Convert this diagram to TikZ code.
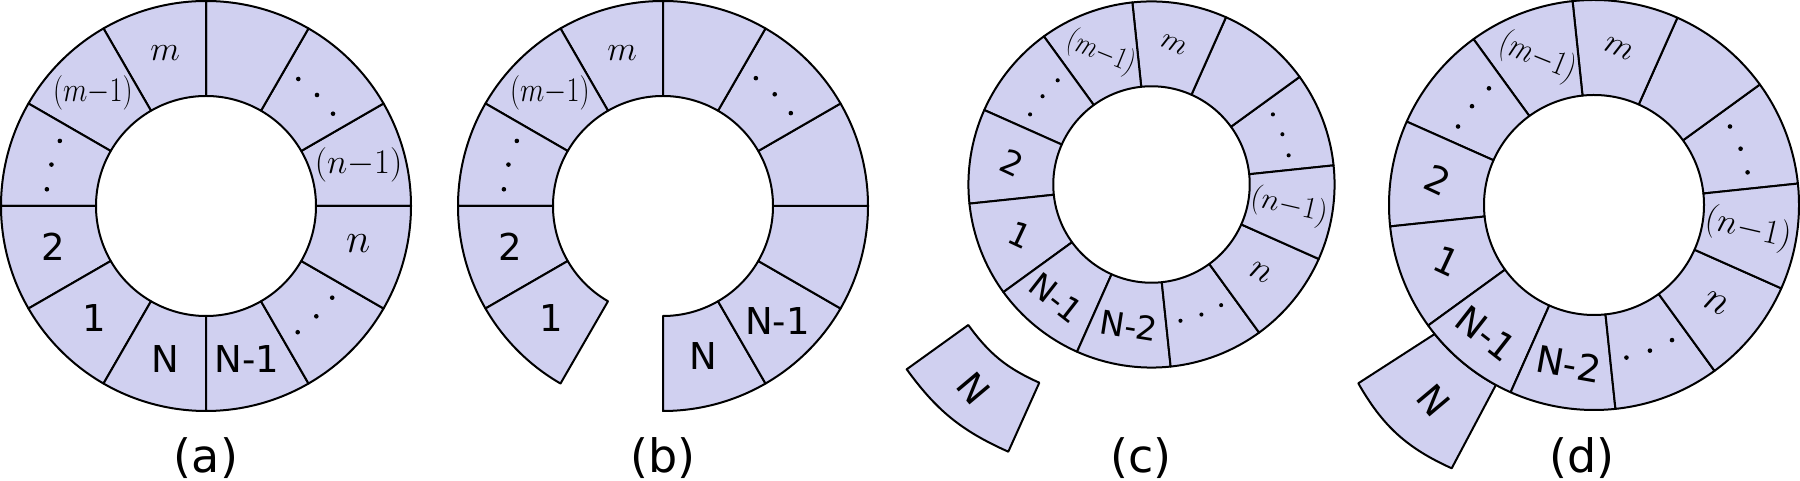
\documentclass[tikz,border=0pt]{standalone}
\usepackage{fontspec}
\usepackage{graphicx}
\newfontfamily\dvs{DejaVu Sans}
\definecolor{segfill}{RGB}{208,208,240}
\tikzset{
  seg/.style={fill=segfill, draw=black, line width=1pt, line join=round},
  slab/.style={font=\dvs\fontsize{18.5}{20}\selectfont, inner sep=0pt},
  mlab/.style={font=\fontsize{17.5}{20}\selectfont, inner sep=0pt},
  nlab/.style={font=\fontsize{22}{24}\selectfont, inner sep=0pt},
  caplab/.style={font=\dvs\fontsize{23}{26}\selectfont, inner sep=0pt, anchor=base},
}
\newcommand\ringseg[4]{\path[seg] ({#1}:#3) arc[start angle=#1, end angle=#2, radius=#3] -- ({#2}:#4) arc[start angle=#2, end angle=#1, radius=#4] -- cycle;}
\newcommand\tridots[2]{\foreach \dd in {-9,0,9}{\fill ({#1+\dd}:#2) circle[radius=2.3];}}
\newcommand\mmo{\scalebox{0.82}[1]{$(m{-}1)$}}
\newcommand\nmo{$(n{-}1)$}
\begin{document}
\begin{tikzpicture}[x=0.5pt,y=0.5pt]
\useasboundingbox (0,0) rectangle (1800,481);
% ---------------- (a)
\begin{scope}[shift={(206,275)}]
  \foreach \a in {0,30,...,330} {\ringseg{\a}{\a+30}{110}{205}}
  \node[mlab] (am) at (105:158) {$m$};
  \node[mlab] (amm) at (135:160) {\mmo};
  \tridots{165}{160}
  \node[slab] (a2) at (195:158) {2};
  \node[slab] (a1) at (225:158) {1};
  \node[slab] (aN) at (255:158) {N};
  \node[slab] (aN1) at (285:158) {N-1};
  \tridots{315}{156}
  \node[nlab] (an) at (346:157) {$n$};
  \node[mlab] (ann) at (15:158) {\nmo};
  \tridots{45}{157}
\end{scope}
\node[caplab] (capa) at (206,8) {(a)};
% ---------------- (b)
\begin{scope}[shift={(663,275)}]
  \foreach \a in {90,120,150,180,210,270,300,330,0,30,60} {\ringseg{\a}{\a+30}{110}{205}}
  \node[mlab] (bm) at (105:158) {$m$};
  \node[mlab] (bmm) at (135:160) {\mmo};
  \tridots{165}{160}
  \node[slab] (b2) at (195:158) {2};
  \node[slab] (b1) at (225:158) {1};
  \node[slab] (bN) at (285:155) {N};
  \node[slab] (bN1) at (315:162) {N-1};
  \tridots{45}{158}
\end{scope}
\node[caplab] (capb) at (663,8) {(b)};
% ---------------- (c)
\begin{scope}[shift={(1151.5,296.5)}, scale=0.893, every node/.append style={transform shape}]
  \foreach \a in {6,36,...,336} {\ringseg{\a}{\a+30}{110}{205}}
  \node[mlab, rotate=-24] (cm) at (81:158) {$m$};
  \node[mlab, rotate=-22] (cmm) at (111:158) {\mmo};
  \tridots{141}{157}
  \node[slab, rotate=-25] (c2) at (171:158) {2};
  \node[slab, rotate=-25] (c1) at (201:158) {1};
  \node[slab, rotate=-38] (cN1) at (230:166) {N-1};
  \node[slab, rotate=-9] (cN2) at (261:160) {N-2};
  \tridots{291}{156}
  \node[nlab, rotate=-28] (cn) at (321:157) {$n$};
  \node[mlab, rotate=-13] (cnn) at (351:156) {\nmo};
  \tridots{21}{157}
\end{scope}
\path[seg] (968.3,156) coordinate (cpt) -- (906.7,111.7) coordinate (cpl)
  to[bend right=15] (1008.3,29.3) coordinate (cpb)
  -- (1039.3,98.3) coordinate (cpr) to[bend left=15] cycle;
\node[slab, rotate=-50] (cN) at (973.3,92.7) {N};
\node[caplab] (capc) at (1141,8) {(c)};
% ---------------- (d)
\begin{scope}[shift={(1594,276)}]
  \path[seg] (219:205) -- (-235.7,-178.3) to[bend right=18] (-142.3,-263.3)
    -- (241.4:205) arc[start angle=241.4, end angle=219, radius=205] -- cycle;
  \node[slab, rotate=-50] (dN) at (-160.7,-195) {N};
  \foreach \a in {6,36,...,336} {\ringseg{\a}{\a+30}{110}{205}}
  \node[mlab, rotate=-24] (dm) at (81:158) {$m$};
  \node[mlab, rotate=-22] (dmm) at (111:158) {\mmo};
  \tridots{141}{157}
  \node[slab, rotate=-25] (d2) at (171:158) {2};
  \node[slab, rotate=-25] (d1) at (201:158) {1};
  \node[slab, rotate=-38] (dN1) at (230:168) {N-1};
  \node[slab, rotate=-10] (dN2) at (261:161) {N-2};
  \tridots{291}{156}
  \node[nlab, rotate=-28] (dn) at (321:157) {$n$};
  \node[mlab, rotate=-13] (dnn) at (351:156) {\nmo};
  \tridots{21}{157}
\end{scope}
\node[caplab] (capd) at (1582,8) {(d)};
\end{tikzpicture}
\end{document}
